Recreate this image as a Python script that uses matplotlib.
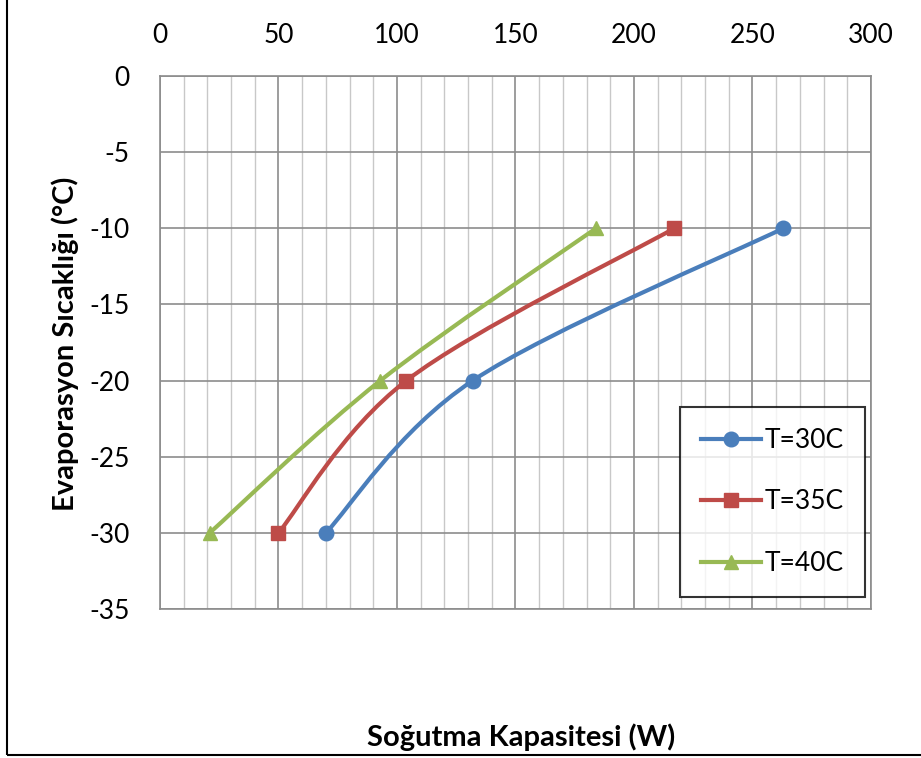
import numpy as np
import matplotlib
matplotlib.use("Agg")
import matplotlib.pyplot as plt
from matplotlib.path import Path
from matplotlib.patches import PathPatch, Rectangle
from matplotlib.lines import Line2D

plt.rcParams['font.family'] = ['Lato', 'DejaVu Sans']
plt.rcParams['axes.unicode_minus'] = False

series_names = ["T=30C", "T=35C", "T=40C"]
evap_temp = [-30, -20, -10]
cap_30 = [70, 132, 263]
cap_35 = [50, 104, 217]
cap_40 = [21, 93, 184]
colors = ["#4A7EBB", "#BE4B48", "#98B954"]
markers = ["o", "s", "^"]

fig = plt.figure(figsize=(9.21, 7.58), dpi=100)
ax = fig.add_axes([0.1737, 0.1966, 0.772, 0.7031])
ax.set_xlim(0, 300)
ax.set_ylim(-35, 0)

W = 0.772 * 921
H = 0.7031 * 758

def smooth_path(xs, ys):
    # Excel-like Bezier smoothing in screen-proportional space
    px = np.array(xs) / 300 * W
    py = (np.array(ys) + 35) / 35 * H
    P = np.column_stack([px, py])
    n = len(P)
    verts = [P[0]]
    codes = [Path.MOVETO]
    for i in range(n - 1):
        p0 = P[i - 1] if i > 0 else P[i]
        p1 = P[i]
        p2 = P[i + 1]
        p3 = P[i + 2] if i + 2 < n else P[i + 1]
        c1 = p1 + (p2 - p0) / 6
        c2 = p2 - (p3 - p1) / 6
        verts += [c1, c2, p2]
        codes += [Path.CURVE4] * 3
    V = np.array(verts)
    V[:, 0] = V[:, 0] / W * 300
    V[:, 1] = V[:, 1] / H * 35 - 35
    return Path(V, codes)

for caps, c, m, name in zip([cap_30, cap_35, cap_40], colors, markers, series_names):
    ax.add_patch(PathPatch(smooth_path(caps, evap_temp), facecolor='none',
                           edgecolor=c, lw=3, zorder=3, capstyle='round'))
    ax.plot(caps, evap_temp, linestyle='none', marker=m, color=c,
            markersize=10.5, zorder=4)

ax.set_xticks(np.arange(0, 301, 50))
ax.set_xticks(np.arange(0, 301, 10), minor=True)
ax.set_yticks(np.arange(-35, 1, 5))
ax.xaxis.tick_top()
ax.tick_params(axis='both', which='both', length=0, labelsize=19)
ax.tick_params(axis='x', pad=20)
ax.tick_params(axis='y', pad=22)
ax.grid(which='major', color='#8c8c8c', lw=1.2)
ax.grid(which='minor', axis='x', color='#c8c8c8', lw=1.0)
ax.set_axisbelow(True)
for s in ax.spines.values():
    s.set_color('#8c8c8c')
    s.set_linewidth(1.2)

fig.text(0.566, 0.028, "Soğutma Kapasitesi (W)", ha='center', va='center',
         fontsize=21, fontweight='bold')
fig.text(0.0706, 0.547, "Evaporasyon Sıcaklığı (°C)", ha='center', va='center',
         rotation=90, fontsize=21, fontweight='bold')

handles = [Line2D([0], [0], color=c, lw=3, marker=m, markersize=10.5)
           for c, m in zip(colors, markers)]
leg = ax.legend(handles, series_names, loc='lower right',
                bbox_to_anchor=(0.9915, 0.0226), fontsize=19, frameon=True,
                fancybox=False, edgecolor='black', labelspacing=1.38,
                borderpad=0.8, handlelength=2.25, handletextpad=0.15,
                borderaxespad=0)
leg.get_frame().set_linewidth(1.5)

fig.patches.append(Rectangle((0.008, 0.004), 1.2, 1.2, transform=fig.transFigure,
                             fill=False, edgecolor='black', lw=1.5))

fig.savefig("out.png", dpi=100)
